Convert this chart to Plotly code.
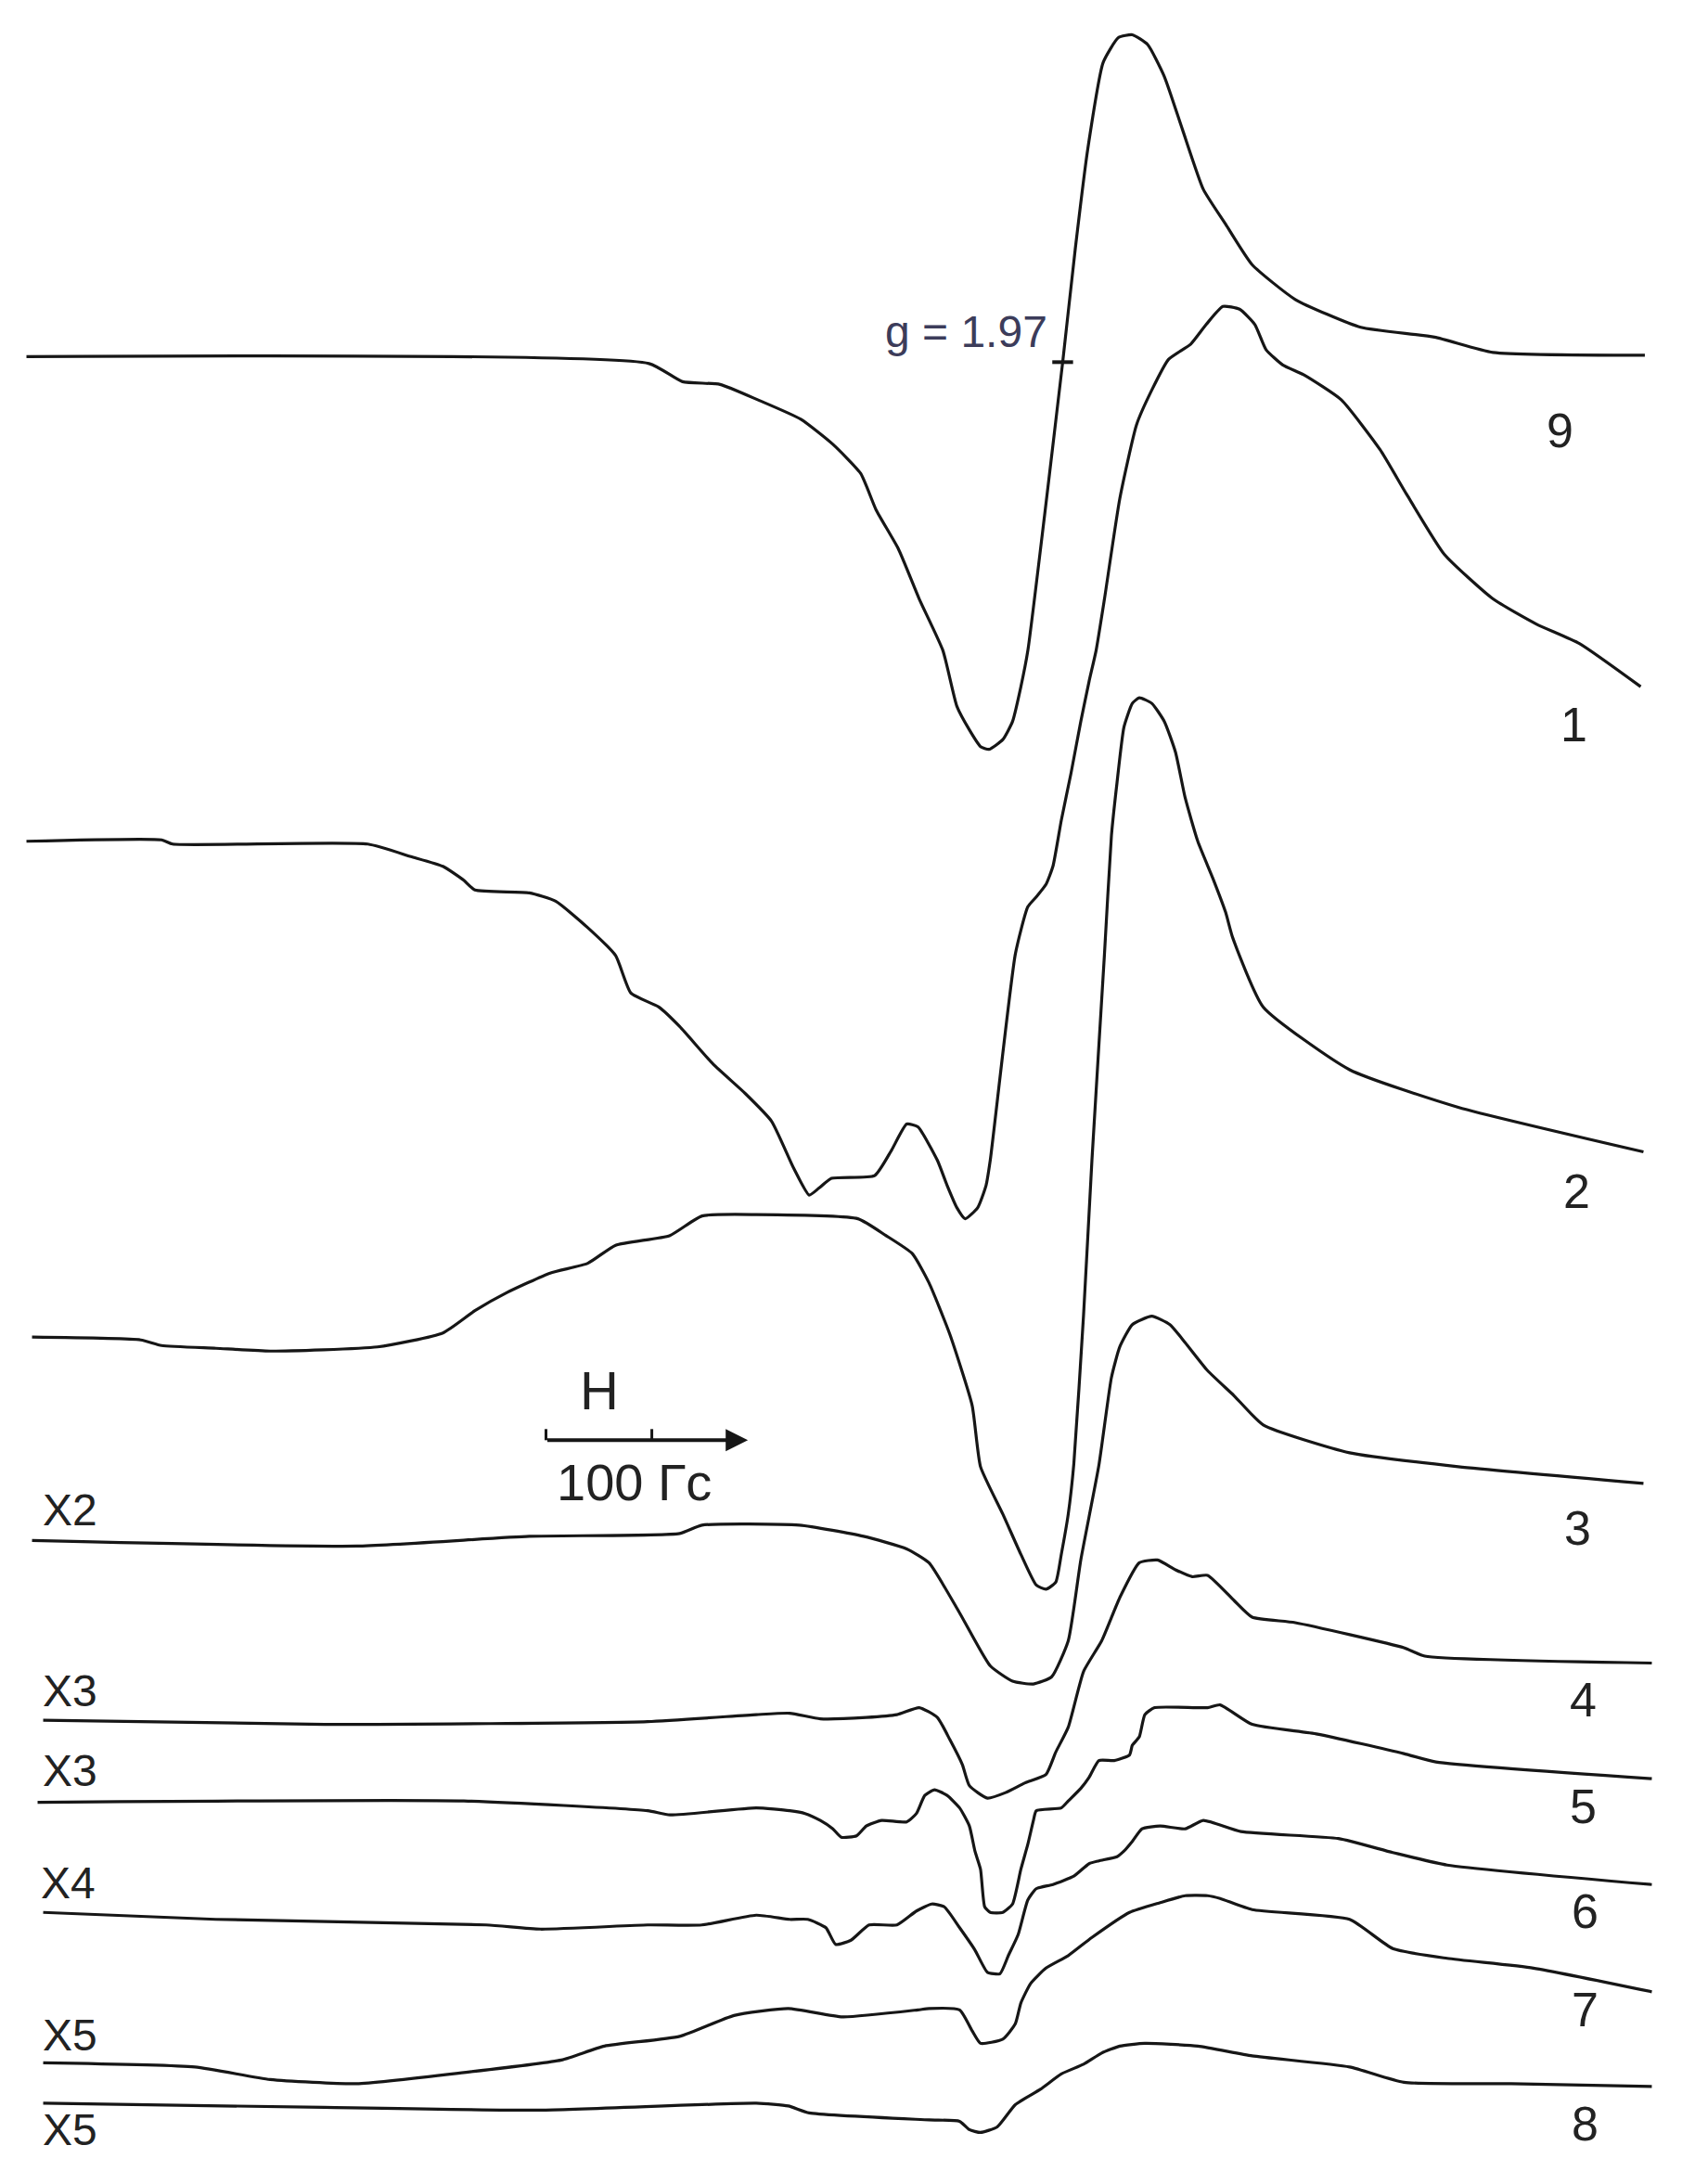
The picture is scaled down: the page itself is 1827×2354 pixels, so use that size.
import plotly.graph_objects as go

# Field position (arbitrary units, left→right) and stacked signal (arbitrary units, top→bottom)
x9 = [19, 466, 490, 517, 544, 575, 598, 618, 629, 645, 660, 677, 687, 696, 704, 710, 720, 727, 733, 738, 750, 763, 772, 781, 792, 803, 813, 824, 836, 849, 864, 880, 899, 930, 977, 1030, 1072, 1181]
y9 = [256, 261, 274, 276, 287, 301, 319, 340, 366, 394, 430, 467, 507, 524, 536, 538, 531, 518, 493, 467, 370, 260, 179, 107, 45, 27, 25, 32, 55, 93, 136, 161, 190, 215, 235, 242, 253, 255]

x1 = [19, 116, 124, 264, 295, 318, 333, 341, 380, 399, 422, 442, 453, 473, 488, 512, 535, 554, 570, 581, 588, 597, 628, 640, 651, 659, 673, 680, 687, 693, 702, 708, 711, 729, 738, 744, 751, 756, 762, 769, 776, 782, 787, 793, 804, 816, 827, 839, 855, 866, 878, 890, 901, 909, 921, 936, 963, 991, 1010, 1037, 1072, 1103, 1134, 1178]
y1 = [604, 603, 606, 606, 615, 622, 632, 639, 641, 647, 666, 686, 713, 723, 737, 764, 785, 805, 839, 858, 853, 846, 844, 826, 807, 809, 833, 851, 867, 875, 867, 851, 833, 685, 651, 644, 635, 622, 589, 555, 518, 489, 467, 430, 358, 305, 280, 258, 247, 233, 220, 222, 233, 251, 262, 269, 287, 323, 355, 398, 430, 448, 462, 493]

x2 = [23, 101, 116, 155, 194, 271, 318, 341, 364, 395, 422, 442, 481, 504, 543, 616, 636, 655, 667, 682, 698, 704, 720, 733, 744, 751, 758, 762, 767, 771, 778, 784, 793, 798, 802, 807, 813, 818, 827, 836, 844, 851, 860, 871, 880, 885, 907, 969, 1047, 1180]
y2 = [960, 962, 966, 968, 970, 967, 957, 941, 928, 914, 907, 894, 887, 873, 872, 875, 887, 900, 921, 958, 1009, 1053, 1087, 1116, 1138, 1141, 1136, 1116, 1087, 1051, 944, 833, 685, 600, 562, 522, 505, 501, 505, 518, 540, 573, 604, 631, 655, 673, 723, 768, 795, 827]

x3 = [23, 256, 380, 488, 504, 574, 620, 651, 667, 689, 711, 727, 742, 755, 767, 776, 789, 798, 804, 813, 827, 840, 851, 867, 886, 907, 969, 1047, 1180]
y3 = [1106, 1110, 1103, 1101, 1095, 1095, 1103, 1112, 1122, 1158, 1196, 1207, 1209, 1204, 1178, 1120, 1052, 989, 967, 951, 945, 951, 964, 984, 1002, 1023, 1043, 1053, 1065]

x4 = [31, 233, 465, 543, 567, 589, 622, 644, 660, 673, 682, 691, 696, 709, 722, 736, 751, 758, 767, 778, 791, 804, 818, 831, 844, 856, 867, 886, 899, 930, 1008, 1023, 1186]
y4 = [1235, 1238, 1236, 1231, 1230, 1234, 1233, 1231, 1226, 1233, 1249, 1267, 1282, 1291, 1287, 1280, 1274, 1258, 1240, 1200, 1178, 1147, 1122, 1120, 1127, 1132, 1131, 1149, 1161, 1165, 1183, 1189, 1194]

x5 = [27, 333, 465, 481, 543, 567, 578, 589, 598, 604, 615, 622, 633, 651, 658, 664, 671, 680, 689, 696, 700, 704, 707, 711, 720, 727, 733, 738, 742, 744, 762, 767, 776, 782, 789, 800, 811, 813, 818, 822, 829, 867, 876, 899, 946, 1008, 1031, 1186]
y5 = [1294, 1293, 1300, 1303, 1298, 1300, 1302, 1307, 1313, 1319, 1318, 1311, 1307, 1308, 1302, 1289, 1285, 1289, 1298, 1311, 1329, 1342, 1369, 1373, 1373, 1367, 1342, 1324, 1307, 1300, 1298, 1293, 1284, 1276, 1264, 1264, 1260, 1253, 1247, 1231, 1226, 1226, 1224, 1238, 1245, 1259, 1265, 1277]

x6 = [31, 155, 349, 388, 465, 504, 543, 567, 580, 593, 600, 611, 624, 644, 658, 669, 678, 689, 700, 709, 718, 724, 731, 738, 744, 756, 771, 782, 789, 802, 807, 813, 820, 833, 851, 864, 891, 961, 1000, 1039, 1186]
y6 = [1373, 1378, 1382, 1385, 1382, 1382, 1375, 1378, 1378, 1384, 1396, 1393, 1382, 1382, 1372, 1367, 1369, 1384, 1400, 1416, 1417, 1404, 1389, 1364, 1356, 1353, 1347, 1338, 1336, 1333, 1329, 1322, 1313, 1311, 1313, 1307, 1315, 1320, 1330, 1339, 1353]

x7 = [31, 140, 194, 256, 333, 403, 434, 488, 527, 566, 605, 659, 667, 689, 698, 704, 720, 729, 733, 740, 751, 767, 784, 811, 833, 851, 867, 876, 899, 969, 1000, 1039, 1101, 1186]
y7 = [1481, 1484, 1493, 1496, 1488, 1479, 1469, 1462, 1447, 1442, 1448, 1443, 1442, 1443, 1458, 1467, 1464, 1453, 1438, 1424, 1413, 1404, 1391, 1373, 1366, 1361, 1361, 1363, 1371, 1378, 1399, 1406, 1413, 1430]

x8 = [31, 233, 388, 543, 566, 581, 667, 689, 696, 704, 716, 729, 747, 762, 778, 791, 804, 822, 860, 899, 969, 1008, 1085, 1186]
y8 = [1510, 1513, 1515, 1510, 1512, 1517, 1522, 1523, 1529, 1531, 1527, 1511, 1500, 1489, 1482, 1474, 1469, 1467, 1469, 1476, 1484, 1495, 1496, 1498]

curve_names = ["9", "1", "2", "3", "4", "5", "6", "7", "8"]
curves_x = [x9, x1, x2, x3, x4, x5, x6, x7, x8]
curves_y = [y9, y1, y2, y3, y4, y5, y6, y7, y8]
gain_labels = ["X2", "X3", "X3", "X4", "X5", "X5"]

g_value_x = [763]
g_value_y = [260]

FONT = "Liberation Sans, Arial, sans-serif"
INK = "#161616"

fig = go.Figure()
for name, xs, ys in zip(curve_names, curves_x, curves_y):
    fig.add_trace(go.Scatter(x=xs, y=ys, mode="lines", name=name,
                             line=dict(color=INK, width=3.2, shape="spline", smoothing=0.5),
                             hoverinfo="skip", showlegend=False))

fig.add_trace(go.Scatter(x=g_value_x, y=g_value_y, mode="markers",
                         marker=dict(symbol="line-ew", size=16, line=dict(color=INK, width=4)),
                         hoverinfo="skip", showlegend=False))

annotations = []
# curve number labels on the right
num_pos = [(1120, 309), (1130, 520), (1132, 855), (1133, 1097), (1137, 1220),
           (1137, 1297), (1138, 1372), (1138, 1443), (1138, 1525)]
for name, (px, py) in zip(curve_names, num_pos):
    annotations.append(dict(x=px, y=py, text=name, showarrow=False,
                            font=dict(family=FONT, size=52, color="#222"),
                            xanchor="center", yanchor="middle"))
# gain labels on the left
gain_pos = [(50, 1084), (50, 1214), (50, 1271), (49, 1352), (50, 1461), (50, 1529)]
for lab, (px, py) in zip(gain_labels, gain_pos):
    annotations.append(dict(x=px, y=py, text=lab, showarrow=False,
                            font=dict(family=FONT, size=48, color="#222"),
                            xanchor="center", yanchor="middle"))
# g-value label
annotations.append(dict(x=694, y=238, text="g = 1.97", showarrow=False,
                        font=dict(family=FONT, size=48, color="#3c3c5a"),
                        xanchor="center", yanchor="middle"))
# field scale bar
annotations.append(dict(x=430, y=998, text="H", showarrow=False,
                        font=dict(family=FONT, size=58, color="#222"),
                        xanchor="center", yanchor="middle"))
annotations.append(dict(x=455, y=1064, text="100 Гс", showarrow=False,
                        font=dict(family=FONT, size=56, color="#222"),
                        xanchor="center", yanchor="middle"))
annotations.append(dict(x=537, y=1034, ax=392, ay=1034, axref="x", ayref="y",
                        xref="x", yref="y", text="", showarrow=True,
                        arrowhead=2, arrowsize=1.2, arrowwidth=4, arrowcolor=INK))

shapes = [
    dict(type="line", x0=392, x1=392, y0=1026, y1=1034, line=dict(color=INK, width=3)),
    dict(type="line", x0=468, x1=468, y0=1026, y1=1034, line=dict(color=INK, width=3)),
]

fig.update_layout(
    width=1827, height=2354,
    margin=dict(l=0, r=0, t=0, b=0),
    paper_bgcolor="white", plot_bgcolor="white",
    xaxis=dict(range=[0, 1217], visible=False, fixedrange=True),
    yaxis=dict(range=[1568, 0], visible=False, fixedrange=True),
    annotations=annotations, shapes=shapes,
    showlegend=False,
)

fig.write_html("out.html", config={"displayModeBar": False},
               post_script="document.body.style.margin='0';")
